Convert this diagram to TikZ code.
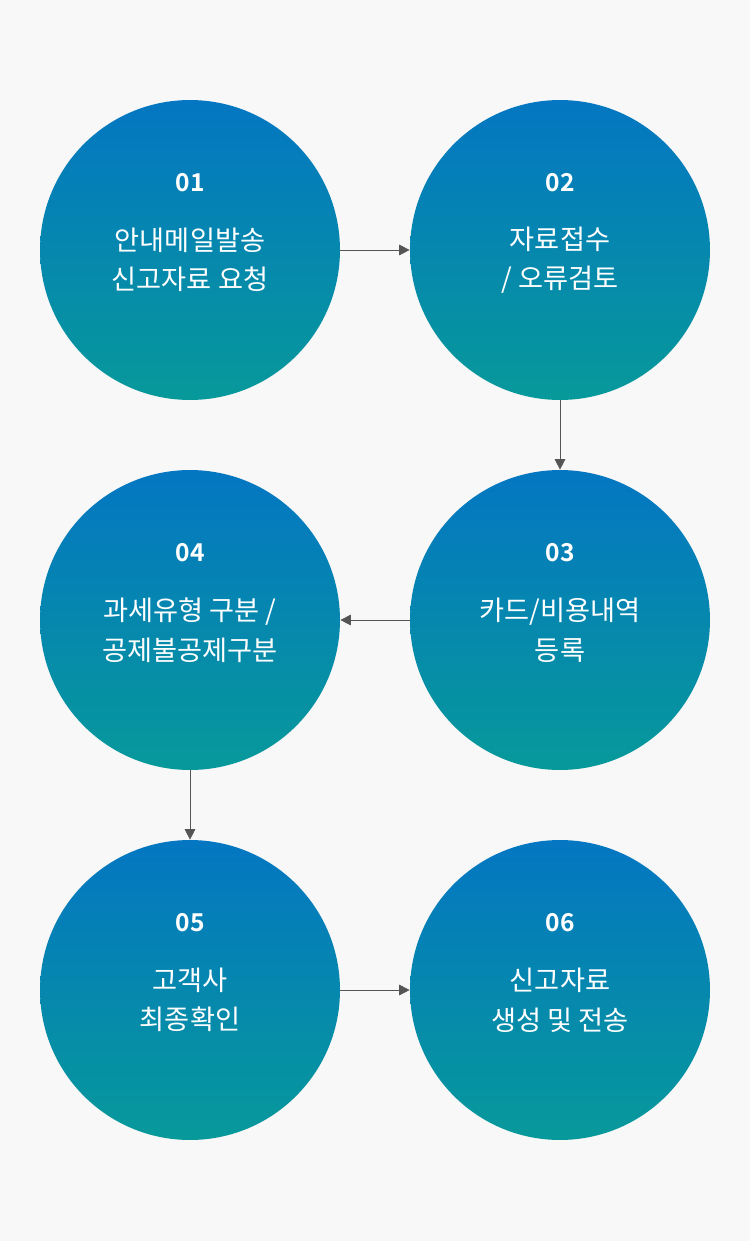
\documentclass[tikz,border=0pt]{standalone}
\usepackage{fontspec}
\setmainfont{Noto Sans CJK KR}[BoldFont={Noto Sans CJK KR Bold}]
\usetikzlibrary{positioning,arrows.meta}
\definecolor{bgcol}{HTML}{F8F8F8}
\definecolor{topblue}{HTML}{0476C2}
\definecolor{midteal}{HTML}{058FA6}
\definecolor{lowteal}{HTML}{07999A}
\definecolor{arrgray}{HTML}{555555}
\tikzset{
  stepdisc/.style={circle, minimum size=6cm, inner sep=0pt,
    top color=topblue, middle color=midteal, bottom color=lowteal, shading angle=0},
  numtxt/.style={text=white, font=\fontsize{14}{16}\selectfont\bfseries},
  steptxt/.style={text=white, align=center, font=\fontsize{15.5}{22.5}\selectfont},
  flow/.style={draw=arrgray, -{Triangle[length=6pt,width=6pt]}}
}
\begin{document}
\begin{tikzpicture}[x=0.02cm, y=-0.02cm]
  \fill[bgcol] (0,0) rectangle (750,1241);
  \node[stepdisc] (s1) at (190,250) {};
  \node[stepdisc] (s2) at (560,250) {};
  \node[stepdisc] (s3) at (560,620) {};
  \node[stepdisc] (s4) at (190,620) {};
  \node[stepdisc] (s5) at (190,990) {};
  \node[stepdisc] (s6) at (560,990) {};
  % numbers and texts
  \node[numtxt] (n1) at (190,183) {01};
  \node[steptxt] (t1) at (190,260) {안내메일발송\\신고자료 요청};
  \node[numtxt] (n2) at (560,183) {02};
  \node[steptxt] (t2) at (560,260) {자료접수\\/ 오류검토};
  \node[numtxt] (n3) at (560,553) {03};
  \node[steptxt] (t3) at (560,630) {카드/비용내역\\등록};
  \node[numtxt] (n4) at (190,553) {04};
  \node[steptxt] (t4) at (190,630) {과세유형 구분 /\\공제불공제구분};
  \node[numtxt] (n5) at (190,923) {05};
  \node[steptxt] (t5) at (190,1000) {고객사\\최종확인};
  \node[numtxt] (n6) at (560,923) {06};
  \node[steptxt] (t6) at (560,1000) {신고자료\\생성 및 전송};
  % connectors
  \draw[flow] (s1) -- (s2);
  \draw[flow] (s2) -- (s3);
  \draw[flow] (s3) -- (s4);
  \draw[flow] (s4) -- (s5);
  \draw[flow] (s5) -- (s6);
\end{tikzpicture}
\end{document}
